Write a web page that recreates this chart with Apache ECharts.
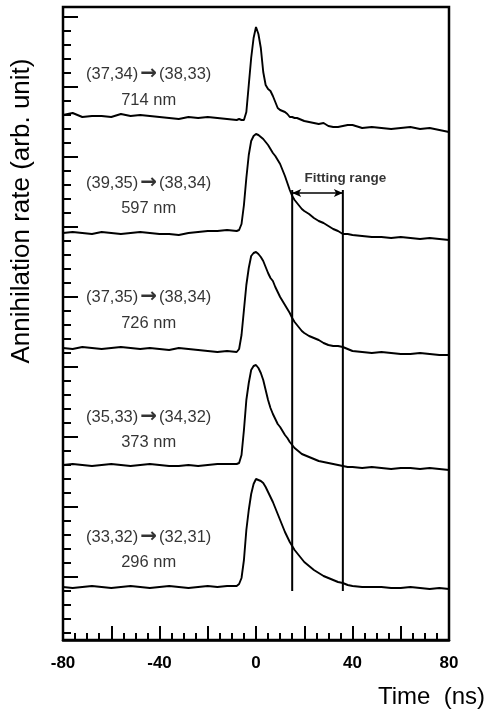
<!DOCTYPE html>
<html>
<head>
<meta charset="utf-8">
<script src="https://cdn.jsdelivr.net/npm/echarts@6/dist/echarts.min.js"></script>
<style>
html,body{margin:0;padding:0;background:#fff;}
#chart{width:486px;height:710px;}
</style>
</head>
<body>
<div id="chart"></div>
<script>
// Time axis (ns)
const time = [-80,-76,-72,-68,-64,-60,-56,-52,-48,-44,-40,-36,-32,-28,-24,-20,-16,-12,-8,
  -7,-6,-5,-4,-3,-2,-1,0,1,2,3,4,5,6,7,8,9,10,11,12,13,14,15,16,17,18,19,20,
  22,24,26,28,30,32,34,36,38,40,
  44,48,52,56,60,64,68,72,76,80];

// Annihilation rate (arb. unit, vertically offset traces)
const rate714 = [525,527,523,524,524,523,526,524,525,524,523,522,521,523,522,523,522,521,520,
  521,520,520,528,555,582,602,613,606,592,568,555,551,549,544,538,532,530,529,528,526,523,523,522,522,521,520,519,
  518,517,516,517,514,513,513,514,515,515,
  512,513,512,511,512,513,511,512,510,508];
const rate597 = [407,408,407,406,408,407,406,407,408,407,406,406,405,407,408,409,409,410,409,
  410,416,435,462,485,499,504,506,505,503,501,498,495,491,487,484,480,476,470,464,457,450,444,440,437,434,431,429,
  426,422,419,417,414,411,409,406,406,405,
  404,403,403,402,403,402,401,402,401,400];
const rate726 = [292,291,293,292,291,292,293,292,291,292,291,290,292,291,290,289,288,289,288,
  291,305,330,355,372,384,387,388,386,383,379,373,367,362,359,353,348,343,339,335,331,327,322,318,315,312,309,307,
  304,302,300,297,295,294,294,293,291,289,
  288,287,288,287,286,286,287,286,285,285];
const rate373 = [175,176,175,174,175,176,175,174,175,176,175,174,174,175,174,175,176,176,176,
  177,185,210,240,257,270,274,275,272,267,260,250,240,232,226,221,216,213,209,205,202,198,195,192,190,188,186,185,
  183,181,179,178,177,176,175,174,173,173,
  172,173,172,171,172,172,171,172,171,170];
const rate296 = [53,52,53,54,53,52,53,54,53,52,53,54,53,52,53,54,53,54,54,
  56,62,80,110,130,146,156,161,160,159,157,153,148,143,138,132,126,120,114,108,103,98,94,90,87,84,81,78,
  74,70,67,64,62,60,58,57,55,54,
  53,53,53,52,52,53,52,51,52,51];

const traces = [rate714, rate597, rate726, rate373, rate296];
const fromStates = ['(37,34)','(39,35)','(37,35)','(35,33)','(33,32)'];
const toStates = ['(38,33)','(38,34)','(38,34)','(34,32)','(32,31)'];
const wavelengths = ['714 nm','597 nm','726 nm','373 nm','296 nm'];
const labelTime = [-44.5,-44.5,-44.5,-44.5,-44.5];
const transitionY = [566,457,343,223,103];
const wavelengthY = [540,432,317,198,78];

// Fitting range
const fitStart = 15, fitEnd = 36;
const fitLow = 49, fitHigh = 450, arrowY = 447;
const fitLabelPos = [37, 462];

// Axis ticks
const xTickLabels = [-80,-40,0,40,80];

const FONT = '"Liberation Sans", Arial, Helvetica, sans-serif';
const chart = echarts.init(document.getElementById('chart'), null, {renderer:'canvas'});

const series = traces.map(arr => ({
  type:'line', xAxisIndex:0, yAxisIndex:0,
  data: time.map((t,i)=>[t, arr[i]]),
  showSymbol:false, symbol:'none', silent:true,
  lineStyle:{color:'#000', width:1.9},
  animation:false
}));

series.push({
  type:'line', xAxisIndex:0, yAxisIndex:0, symbol:'none', silent:true, animation:false,
  data:[[fitStart,fitLow],[fitStart,fitHigh]], lineStyle:{color:'#000',width:2},
  markLine:{
    silent:true, animation:false,
    symbol:['arrow','arrow'], symbolSize:[6,9],
    lineStyle:{color:'#000', width:1.5, type:'solid'},
    label:{show:false},
    data:[[{coord:[fitStart,arrowY]},{coord:[fitEnd,arrowY]}]]
  }
});
series.push({
  type:'line', xAxisIndex:0, yAxisIndex:0, symbol:'none', silent:true, animation:false,
  data:[[fitEnd,fitLow],[fitEnd,fitHigh]], lineStyle:{color:'#000',width:2}
});

// Labels through the data scales
const labelData = [];
fromStates.forEach((s,i)=>{
  labelData.push({value:[labelTime[i], transitionY[i]], name:'{t|' + s + '}{a|\u2192}{t|' + toStates[i] + '}'});
  labelData.push({value:[labelTime[i], wavelengthY[i]], name:'{t|' + wavelengths[i] + '}'});
});
series.push({
  type:'scatter', xAxisIndex:0, yAxisIndex:0, symbolSize:0, silent:true, animation:false,
  data: labelData,
  label:{show:true, position:'inside', formatter:p=>p.name, color:'#000',
    textBorderWidth:0,
    rich:{
      t:{fontFamily:FONT, fontSize:16.5, color:'#000', textBorderWidth:0},
      a:{fontFamily:'"DejaVu Sans", sans-serif', fontSize:20, fontWeight:'bold', color:'#000', textBorderWidth:0, padding:[0,2,0,2]}
    }}
});
series.push({
  type:'scatter', xAxisIndex:0, yAxisIndex:0, symbolSize:0, silent:true, animation:false,
  data:[{value:fitLabelPos, name:'Fitting range'}],
  label:{show:true, position:'inside', formatter:p=>p.name, color:'#000', textBorderWidth:0,
    fontFamily:FONT, fontSize:13.5, fontWeight:'bold'}
});

const option = {
  animation:false,
  backgroundColor:'#fff',
  grid:[
    {left:63, right:37, top:7, bottom:70, show:true, borderColor:'#000', borderWidth:2.5, backgroundColor:'transparent'},
    {left:63, right:37, top:17, bottom:133, show:false},
    {left:63, right:37, top:577, bottom:77, show:false}
  ],
  xAxis:[
    {type:'value', gridIndex:0, min:-80, max:80, interval:20,
      axisLine:{show:true, lineStyle:{color:'#000', width:2.5}},
      axisTick:{show:true, inside:true, length:14, lineStyle:{color:'#000', width:2}},
      minorTick:{show:true, splitNumber:4, length:7, lineStyle:{color:'#000', width:2}},
      splitLine:{show:false},
      axisLabel:{show:true, margin:15, color:'#000', fontFamily:FONT, fontWeight:'bold', fontSize:17,
        formatter:v=> xTickLabels.indexOf(v) >= 0 ? String(v) : ''}
    },
    {type:'value', gridIndex:1, min:0, max:1, show:false},
    {type:'value', gridIndex:2, min:0, max:1, show:false}
  ],
  yAxis:[
    {type:'value', gridIndex:0, min:0, max:633, show:false, splitLine:{show:false}},
    {type:'value', gridIndex:1, min:5, max:45, interval:5,
      axisLine:{show:false}, axisLabel:{show:false}, splitLine:{show:false},
      axisTick:{show:true, inside:true, length:15, lineStyle:{color:'#000', width:2}},
      minorTick:{show:true, splitNumber:5, length:8, lineStyle:{color:'#000', width:2}}
    },
    {type:'value', gridIndex:2, min:1, max:5, interval:1,
      axisLine:{show:false}, axisLabel:{show:false}, splitLine:{show:false},
      axisTick:{show:true, inside:true, length:8, lineStyle:{color:'#000', width:2}}
    }
  ],
  graphic:[
    {type:'text', x:22, y:211, rotation:Math.PI/2,
      style:{text:'Annihilation rate (arb. unit)', fill:'#000', font:'26px ' + FONT,
        textAlign:'center', textVerticalAlign:'middle'}},
    {type:'text', x:485, y:697,
      style:{text:'Time  (ns)', fill:'#000', font:'24px ' + FONT,
        textAlign:'right', textVerticalAlign:'middle'}}
  ],
  series: series
};
chart.setOption(option);
</script>
</body>
</html>
